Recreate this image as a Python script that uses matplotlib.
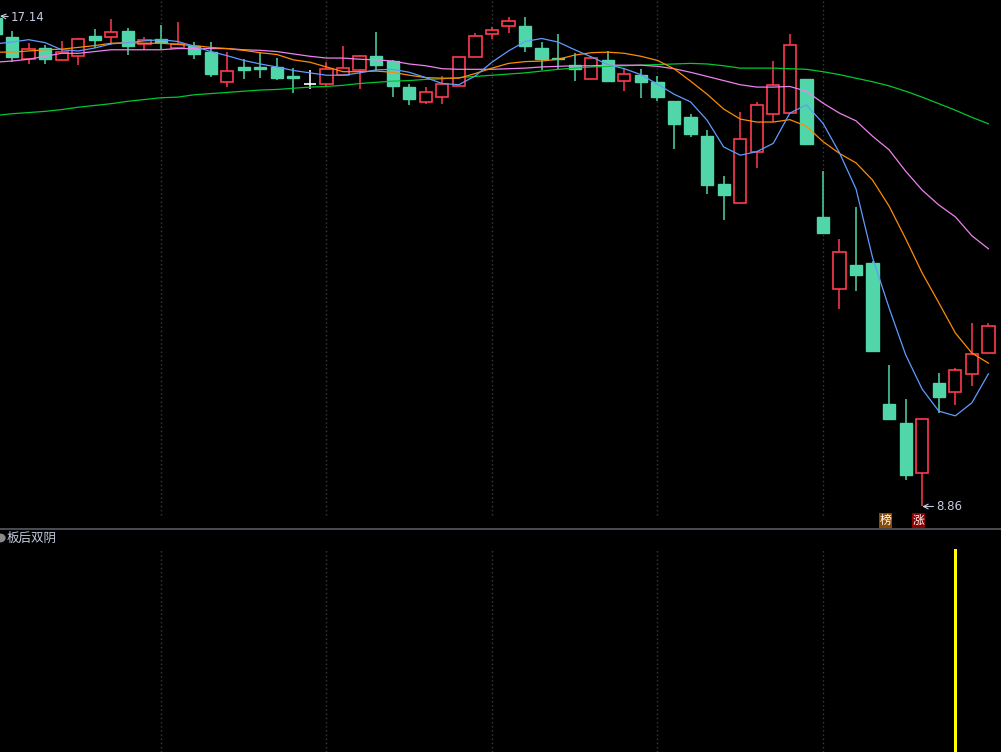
import numpy as np
import matplotlib
matplotlib.use("Agg")
import matplotlib.pyplot as plt
from matplotlib.lines import Line2D
from matplotlib.patches import Circle
import matplotlib.transforms as mtransforms

plt.rcParams['font.family'] = ['DejaVu Sans', 'Noto Sans CJK SC']

# daily bars, oldest first (first one is cut by the left edge)
opens = [17.11, 16.79, 16.41, 16.60, 16.40, 16.47, 16.81, 16.79, 16.89, 16.67,
         16.75, 16.60, 16.64, 16.53, 16.03, 16.28, 16.28, 16.28, 16.12, 15.99,
         16.00, 16.15, 16.22, 16.46, 16.38, 15.94, 15.68, 15.78, 15.95, 16.44,
         16.83, 16.97, 16.97, 16.60, 16.43, 16.31, 16.07, 16.40, 16.05, 16.14,
         16.03, 15.71, 15.44, 15.11, 14.30, 13.99, 14.84, 15.48, 15.50, 16.08,
         13.75, 12.53, 12.94, 12.97, 10.59, 10.27, 9.42, 10.95, 10.79, 11.09,
         11.45]
highs = [17.14, 16.89, 16.68, 16.65, 16.72, 16.77, 16.92, 17.09, 16.94, 16.79,
         16.99, 17.04, 16.70, 16.70, 16.53, 16.41, 16.53, 16.43, 16.26, 16.23,
         16.36, 16.63, 16.48, 16.87, 16.40, 16.00, 15.94, 16.12, 16.44, 16.85,
         16.95, 17.13, 17.12, 16.70, 16.84, 16.51, 16.45, 16.55, 16.24, 16.25,
         16.13, 15.71, 15.49, 15.22, 14.44, 15.52, 15.69, 16.38, 16.84, 16.08,
         14.52, 13.38, 13.92, 13.00, 11.25, 10.68, 10.34, 11.11, 11.20, 11.96,
         11.96]
lows = [16.80, 16.36, 16.33, 16.33, 16.40, 16.31, 16.60, 16.65, 16.48, 16.57,
        16.58, 16.60, 16.41, 16.11, 15.94, 16.08, 16.09, 16.06, 15.84, 15.91,
        15.94, 16.15, 15.90, 16.21, 15.78, 15.64, 15.65, 15.65, 15.95, 16.44,
        16.75, 16.86, 16.54, 16.23, 16.25, 16.05, 16.07, 16.05, 15.88, 15.76,
        15.71, 14.90, 15.09, 14.14, 13.69, 13.99, 14.58, 15.35, 15.50, 14.98,
        13.48, 12.20, 12.49, 11.49, 10.33, 9.30, 8.86, 10.44, 10.58, 10.90,
        11.45]
closes = [16.84, 16.45, 16.59, 16.42, 16.53, 16.75, 16.74, 16.87, 16.64, 16.74,
          16.70, 16.67, 16.50, 16.16, 16.21, 16.23, 16.24, 16.09, 16.10, 15.99,
          16.25, 16.26, 16.46, 16.32, 15.96, 15.74, 15.85, 16.00, 16.44, 16.81,
          16.90, 17.05, 16.64, 16.42, 16.41, 16.24, 16.43, 16.05, 16.16, 16.03,
          15.78, 15.32, 15.14, 14.29, 14.12, 15.06, 15.63, 15.97, 16.65, 14.98,
          13.48, 13.15, 12.76, 11.49, 10.33, 9.40, 10.34, 10.70, 11.16, 11.43,
          11.90]

# moving averages as drawn by the terminal
ma5 = [16.67, 16.70, 16.74, 16.69, 16.57, 16.55, 16.60, 16.67, 16.69, 16.72,
       16.74, 16.71, 16.63, 16.54, 16.47, 16.39, 16.33, 16.28, 16.22, 16.18,
       16.14, 16.14, 16.18, 16.23, 16.24, 16.19, 16.10, 16.00, 15.98, 16.13,
       16.36, 16.55, 16.71, 16.76, 16.70, 16.57, 16.45, 16.32, 16.25, 16.15,
       15.99, 15.82, 15.69, 15.38, 14.93, 14.79, 14.85, 14.99, 15.50, 15.64,
       15.33, 14.83, 14.22, 13.06, 12.21, 11.42, 10.84, 10.47, 10.39, 10.61,
       11.10]
ma10 = [16.53, 16.53, 16.55, 16.57, 16.58, 16.61, 16.64, 16.68, 16.69, 16.68,
        16.68, 16.66, 16.64, 16.61, 16.59, 16.56, 16.52, 16.49, 16.40, 16.36,
        16.28, 16.20, 16.20, 16.21, 16.19, 16.14, 16.10, 16.09, 16.09, 16.17,
        16.26, 16.34, 16.37, 16.38, 16.41, 16.48, 16.52, 16.53, 16.51, 16.46,
        16.39, 16.25, 16.04, 15.82, 15.57, 15.40, 15.35, 15.35, 15.39, 15.28,
        15.02, 14.82, 14.66, 14.37, 13.93, 13.38, 12.80, 12.30, 11.79, 11.45,
        11.28]
ma20 = [16.36, 16.38, 16.41, 16.46, 16.51, 16.51, 16.54, 16.57, 16.57, 16.57,
        16.57, 16.59, 16.59, 16.59, 16.59, 16.57, 16.56, 16.54, 16.50, 16.46,
        16.43, 16.43, 16.41, 16.40, 16.38, 16.33, 16.30, 16.25, 16.24, 16.24,
        16.24, 16.25, 16.26, 16.28, 16.29, 16.30, 16.30, 16.31, 16.31, 16.31,
        16.29, 16.25, 16.19, 16.12, 16.05, 15.98, 15.94, 15.94, 15.95, 15.87,
        15.67, 15.50, 15.37, 15.11, 14.88, 14.52, 14.20, 13.95, 13.75, 13.43,
        13.21]
ma60 = [15.46, 15.49, 15.51, 15.53, 15.56, 15.60, 15.63, 15.66, 15.70, 15.73,
        15.76, 15.77, 15.81, 15.83, 15.85, 15.87, 15.89, 15.90, 15.92, 15.94,
        15.95, 15.97, 16.00, 16.02, 16.04, 16.05, 16.07, 16.08, 16.10, 16.12,
        16.14, 16.16, 16.18, 16.21, 16.24, 16.26, 16.28, 16.29, 16.30, 16.31,
        16.32, 16.33, 16.34, 16.33, 16.30, 16.26, 16.26, 16.26, 16.25, 16.24,
        16.20, 16.15, 16.09, 16.03, 15.96, 15.87, 15.77, 15.66, 15.55, 15.43,
        15.32]

# 板后双阴 signal (1 = triggered)
signal = [0] * 58 + [1, 0, 0]

max_price = 17.14
min_price = 8.86
tag_bars = [54, 56]
tag_text = ['榜', '涨']

RED = '#ff3a4f'
GREEN = '#50d6a9'
TXT = '#c5cde0'

n = len(closes)
x = np.arange(n)

fig = plt.figure(figsize=(10.01, 7.52), dpi=100, facecolor='black')
ax = fig.add_axes([0, 1 - 528 / 752, 1, 528 / 752])
ax2 = fig.add_axes([0, 0, 1, 222 / 752])
for a in (ax, ax2):
    a.set_facecolor('black')
    a.set_xlim(0.272, 60.76)
    a.set_xticks([])
    a.set_yticks([])
    for s in a.spines.values():
        s.set_visible(False)
    for g in range(10, 60, 10):
        if a is ax:
            a.axvline(g, ymin=13 / 528, ymax=1, color='#3c3c3c', lw=1, ls=(0, (1, 2)), zorder=0)
        else:
            a.axvline(g, ymin=0, ymax=204 / 222, color='#3c3c3c', lw=1, ls=(0, (1, 2)), zorder=0)

ax.set_ylim(8.497, 17.41)

# candles
w = 0.74
for i in range(n):
    o, h, l, c = opens[i], highs[i], lows[i], closes[i]
    if c > o:
        col = RED
    elif c < o:
        col = GREEN
    else:
        col = 'white'
    ax.vlines(i, l, h, color=col, lw=1.1, zorder=2)
    if c == o:
        ax.hlines(c, i - w / 2, i + w / 2, color=col, lw=1.2, zorder=3)
    elif c > o:
        ax.bar(i, c - o, bottom=o, width=w, facecolor='black', edgecolor=col, lw=1.2, zorder=3)
    else:
        ax.bar(i, o - c, bottom=c, width=w, facecolor=col, edgecolor=col, lw=1.0, zorder=3)

# moving averages
ax.plot(x, ma60, color='#00c832', lw=0.9, zorder=4)
ax.plot(x, ma20, color='#ee82ee', lw=0.9, zorder=4)
ax.plot(x, ma10, color='#ff8c00', lw=0.9, zorder=4)
ax.plot(x, ma5, color='#5f9cff', lw=0.9, zorder=4)

# high / low labels
ax.annotate(f'{max_price:.2f}', xy=(0.272, max_price), xytext=(11, -2), textcoords='offset pixels',
            ha='left', va='center', color=TXT, fontsize=8.5,
            arrowprops=dict(arrowstyle='->', color=TXT, lw=0.8, shrinkA=0, shrinkB=0))
low_i = int(np.argmin(lows))
ax.annotate(f'{min_price:.2f}', xy=(low_i, min_price), xytext=(14, 0), textcoords='offset pixels',
            ha='left', va='center', color=TXT, fontsize=8.5,
            arrowprops=dict(arrowstyle='->', color=TXT, lw=0.8, shrinkA=0, shrinkB=0))

# event tags under candles
trans = mtransforms.blended_transform_factory(ax.transData, ax.transAxes)
for bi, t, bg in zip(tag_bars, tag_text, ['#8b4a00', '#8b0000']):
    ax.text(bi - 0.2, 0.0142, t, transform=trans, ha='center', va='center', color='white',
            fontsize=8.5, family=['Noto Sans CJK SC'],
            bbox=dict(boxstyle='square,pad=0.05', facecolor=bg, edgecolor='none'))

# separator and lower panel
fig.add_artist(Line2D([0, 1], [1 - 529 / 752, 1 - 529 / 752], color='#5a5a64', lw=1.2))
fig.add_artist(Circle((0.0, 1 - 538 / 752), 0.005, transform=fig.transFigure, color='#8a8a8a'))
fig.text(7 / 1001, 1 - 538 / 752, '板后双阴', ha='left', va='center', color=TXT, fontsize=9,
         family=['Noto Sans CJK SC'])

ax2.set_ylim(0, 1.0936)
ax2.bar(x, signal, width=0.18, color='#ffff00', zorder=3)

fig.savefig('out.png', dpi=100, facecolor='black')
